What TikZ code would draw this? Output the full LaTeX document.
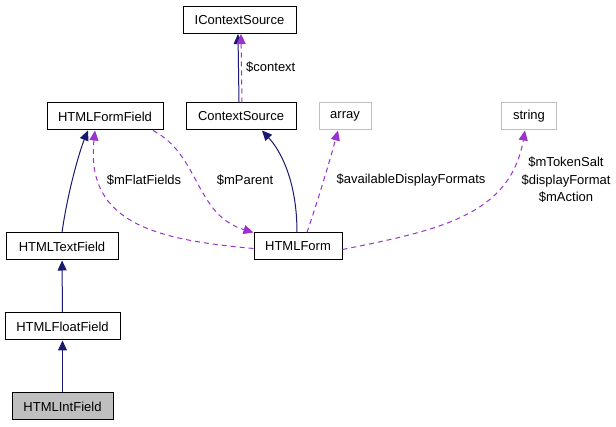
\documentclass[tikz,border=0pt]{standalone}
\usepackage{fontspec}
\setmainfont{Liberation Sans}
\usetikzlibrary{arrows.meta}
\definecolor{navy}{HTML}{191970}
\definecolor{orchid}{HTML}{9A32CD}
\definecolor{grayline}{HTML}{BFBFBF}
\tikzset{
  cls/.style={draw=black, line width=1pt, fill=white, inner sep=0pt, minimum height=27pt},
  ext/.style={cls, draw=grayline},
  inh/.style={navy, line width=1pt, -{Triangle[length=10pt,width=9pt]}},
  use/.style={orchid, line width=1pt, dash pattern=on 5pt off 4pt, -{Triangle[length=10pt,width=9pt]}},
  lbl/.style={inner sep=0pt}
}
\begin{document}
\begin{tikzpicture}[x=1pt, y=-1pt, every node/.style={font=\fontsize{13}{17.5}\selectfont}]
  \useasboundingbox (0,0) rectangle (616,427);
  % classes
  \node[cls, minimum width=113pt] (icsrc) at (239.5,20) {IContextSource};
  \node[cls, minimum width=116pt] (ffield) at (105,116.5) {HTMLFormField};
  \node[cls, minimum width=110pt] (csrc) at (241,116.5) {ContextSource};
  \node[ext, minimum width=52pt] (arr) at (345,116.5) {array};
  \node[ext, minimum width=55pt] (str) at (529,116.5) {string};
  \node[cls, minimum width=112pt] (tfield) at (62,246.5) {HTMLTextField};
  \node[cls, minimum width=88pt] (hform) at (298,246.5) {HTMLForm};
  \node[cls, minimum width=115pt] (flfield) at (62.5,326.5) {HTMLFloatField};
  \node[cls, minimum width=101pt, fill=grayline] (ifield) at (62.5,406.5) {HTMLIntField};
  % inheritance
  \draw[inh] (ifield) -- (flfield);
  \draw[inh] (flfield) -- (tfield);
  \draw[inh] (tfield.north) .. controls (68,190) and (80,150) .. ([xshift=-17pt]ffield.south);
  \draw[inh] ([xshift=-2pt]csrc.north) -- ([xshift=-1.5pt]icsrc.south);
  \draw[inh] ([xshift=-1pt]hform.north) .. controls (297,180) and (280,150) .. ([xshift=21pt]csrc.south);
  % members
  \draw[use] ([xshift=1pt]csrc.north) -- ([xshift=1.5pt]icsrc.south);
  \node[lbl, anchor=west] (lctx) at (246,67) {\$context};
  \draw[use] ([xshift=48pt]ffield.south) .. controls (200,155) and (195,215) .. (hform.north west);
  \node[lbl] (lpar) at (245,180) {\$mParent};
  \draw[use] ([yshift=-2pt]hform.west) .. controls (160,240) and (85,225) .. ([xshift=-10pt]ffield.south);
  \node[lbl] (lflat) at (144,180) {\$mFlatFields};
  \draw[use] ([xshift=9pt]hform.north) .. controls (318,200) and (330,160) .. ([xshift=-7pt]arr.south);
  \node[lbl] (ladf) at (411,180) {\$availableDisplayFormats};
  \draw[use] ([yshift=-3pt]hform.east) .. controls (440,230) and (510,215) .. ([xshift=-4pt]str.south);
  \node[lbl, align=center] (lstr) at (566,180) {\$mTokenSalt\\\$displayFormat\\\$mAction};
\end{tikzpicture}
\end{document}
